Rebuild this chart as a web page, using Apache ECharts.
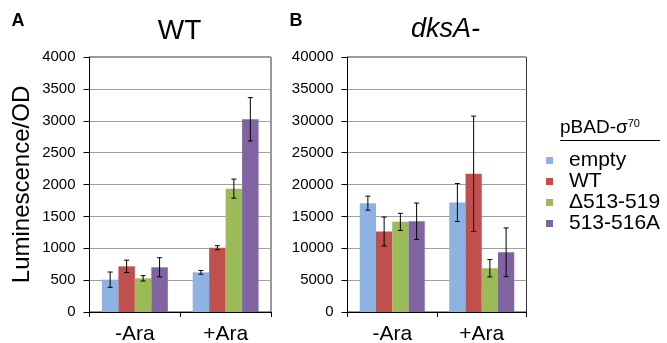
<!DOCTYPE html>
<html>
<head>
<meta charset="utf-8">
<script src="https://cdn.jsdelivr.net/npm/echarts@6/dist/echarts.min.js"></script>
<style>
html,body{margin:0;padding:0;background:#fff;}
#c{width:667px;height:343px;}
</style>
</head>
<body>
<div id="c"></div>
<script>
// ---- data ----
var categories = ['-Ara', '+Ara'];
var seriesNames = ['empty', 'WT', '\u0394513-519', '513-516A'];
var colors = ['#8DB3E2', '#C0504D', '#9BBB59', '#8064A2'];

// Panel A (WT): means and error (± one side)
var wtEmpty = [507, 622];
var wtWT = [716, 1009];
var wtDelta = [528, 1935];
var wt513A = [701, 3023];
var wtEmptyErr = [120, 30];
var wtWTErr = [97, 32];
var wtDeltaErr = [42, 150];
var wt513AErr = [150, 340];

// Panel B (dksA-)
var dkEmpty = [17070, 17170];
var dkWT = [12620, 21680];
var dkDelta = [14140, 6860];
var dk513A = [14240, 9370];
var dkEmptyErr = [1100, 2980];
var dkWTErr = [2270, 9050];
var dkDeltaErr = [1340, 1360];
var dk513AErr = [2850, 3820];

var yTicksA = {min: 0, max: 4000, interval: 500};
var yTicksB = {min: 0, max: 40000, interval: 5000};

// ---- build ----
var FONT = "'Liberation Sans', Arial, sans-serif";
var CAT_GAP = 0.274;
var panels = [
  {means: [wtEmpty, wtWT, wtDelta, wt513A], errs: [wtEmptyErr, wtWTErr, wtDeltaErr, wt513AErr]},
  {means: [dkEmpty, dkWT, dkDelta, dk513A], errs: [dkEmptyErr, dkWTErr, dkDeltaErr, dk513AErr]}
];

var series = [];
panels.forEach(function (p, pi) {
  p.means.forEach(function (m, si) {
    series.push({
      type: 'bar', name: seriesNames[si], xAxisIndex: pi, yAxisIndex: pi,
      data: m, barGap: '0%', barCategoryGap: (CAT_GAP * 100) + '%',
      itemStyle: {color: colors[si]},
      emphasis: {disabled: true}, silent: true
    });
  });
  var errData = [];
  p.means.forEach(function (m, si) {
    m.forEach(function (v, ci) {
      errData.push([ci, si, v - p.errs[si][ci], v + p.errs[si][ci]]);
    });
  });
  series.push({
    type: 'custom', xAxisIndex: pi, yAxisIndex: pi, data: errData, silent: true, z: 10,
    renderItem: function (params, api) {
      var ci = api.value(0), si = api.value(1);
      var lo = api.coord([ci, api.value(2)]);
      var hi = api.coord([ci, api.value(3)]);
      var band = api.size([1, 0])[0];
      var bw = band * (1 - CAT_GAP) / 4;
      var x = lo[0] + (si - 1.5) * bw;
      var cap = 2.5;
      var st = {stroke: '#000', lineWidth: 1};
      return {type: 'group', children: [
        {type: 'line', shape: {x1: x, y1: lo[1], x2: x, y2: hi[1]}, style: st},
        {type: 'line', shape: {x1: x - cap, y1: lo[1], x2: x + cap, y2: lo[1]}, style: st},
        {type: 'line', shape: {x1: x - cap, y1: hi[1], x2: x + cap, y2: hi[1]}, style: st}
      ]};
    }
  });
});

function xAx(gi) {
  return {
    type: 'category', gridIndex: gi, data: categories, boundaryGap: true,
    axisLine: {show: true, lineStyle: {color: '#000', width: 1}},
    axisTick: {show: true, length: 5, inside: false, alignWithLabel: false, interval: 0, lineStyle: {color: '#000'}},
    axisLabel: {fontSize: 21, color: '#000', fontFamily: FONT, margin: 12, interval: 0},
    splitLine: {show: false}
  };
}
function yAx(gi, t, name) {
  return {
    type: 'value', gridIndex: gi, min: t.min, max: t.max, interval: t.interval,
    name: name || '', nameLocation: 'middle', nameGap: 55,
    nameTextStyle: {fontSize: 24, color: '#000', fontFamily: FONT},
    axisLine: {show: true, lineStyle: {color: '#000', width: 1}},
    axisTick: {show: true, length: 6, inside: false, lineStyle: {color: '#000'}},
    axisLabel: {fontSize: 15, color: '#000', fontFamily: FONT, margin: 14,
      formatter: function (v) { return String(v); }},
    splitLine: {show: true, lineStyle: {color: '#A0A0A0', width: 1}}
  };
}

var chart = echarts.init(document.getElementById('c'), null, {renderer: 'canvas'});
chart.setOption({
  animation: false,
  backgroundColor: '#fff',
  grid: [
    {left: 89.5, top: 57, width: 181.5, height: 255, show: true, borderColor: '#333', borderWidth: 1, backgroundColor: 'transparent', outerBoundsMode: 'none', containLabel: false},
    {left: 347.5, top: 57, width: 179, height: 255, show: true, borderColor: '#333', borderWidth: 1, backgroundColor: 'transparent', outerBoundsMode: 'none', containLabel: false}
  ],
  xAxis: [xAx(0), xAx(1)],
  yAxis: [yAx(0, yTicksA, 'Luminescence/OD'), yAx(1, yTicksB)],
  legend: {
    data: seriesNames, orient: 'vertical', left: 546, top: 150,
    itemWidth: 7, itemHeight: 7, itemGap: 0, icon: 'rect', padding: 0,
    selectedMode: false,
    textStyle: {fontSize: 21, color: '#000', fontFamily: FONT, lineHeight: 21, padding: [0, 0, 0, 11]}
  },
  graphic: [
    {type: 'text', x: 18, y: 21, style: {text: 'A', font: 'bold 18px ' + FONT, fill: '#000', textAlign: 'center', textVerticalAlign: 'middle'}},
    {type: 'text', x: 296, y: 21, style: {text: 'B', font: 'bold 18px ' + FONT, fill: '#000', textAlign: 'center', textVerticalAlign: 'middle'}},
    {type: 'text', x: 179.5, y: 31, style: {text: 'WT', font: '28px ' + FONT, fill: '#000', textAlign: 'center', textVerticalAlign: 'middle'}},
    {type: 'text', x: 445.5, y: 29, style: {text: 'dksA-', font: 'italic 27px ' + FONT, fill: '#000', textAlign: 'center', textVerticalAlign: 'middle'}},
    {type: 'text', x: 560, y: 128, style: {
      text: 'pBAD-\u03c3{sup|70}', font: '19px ' + FONT, fill: '#000', textAlign: 'left', textVerticalAlign: 'middle',
      rich: {sup: {fontSize: 11, fontFamily: FONT, fill: '#000', verticalAlign: 'top', padding: [0, 0, 9, 0]}}
    }},
    {type: 'line', shape: {x1: 560, y1: 140.5, x2: 660, y2: 140.5}, style: {stroke: '#000', lineWidth: 1}}
  ],
  series: series
});
</script>
</body>
</html>
